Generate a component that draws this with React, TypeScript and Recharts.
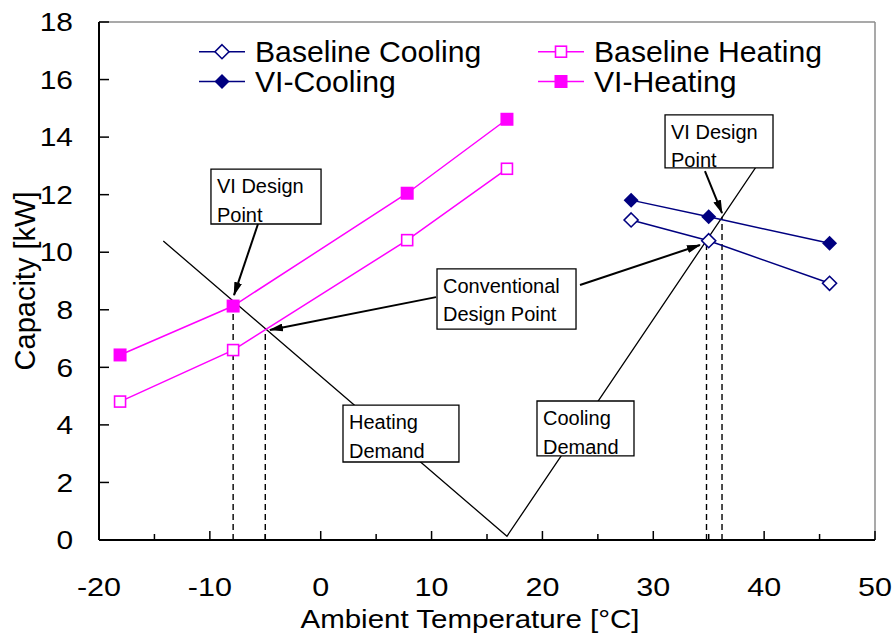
import React from 'react';
import { LineChart, Line, XAxis, YAxis, ReferenceLine, ReferenceArea, Legend } from 'recharts';

// measured values (°C / kW)
const heatTemps = [-18.1, -7.9, 7.8, 16.8];
const baselineHeating = [4.81, 6.6, 10.42, 12.9];
const viHeating = [6.43, 8.13, 12.05, 14.62];

const coolTemps = [28.0, 35.0, 45.9];
const baselineCooling = [11.12, 10.4, 8.92];
const viCooling = [11.81, 11.23, 10.31];

// building load line (heating demand -> balance point -> cooling demand)
const demandTemps = [-14.2, 16.8, 40.3];
const demandLoad = [10.39, 0.13, 13.55];

// design point drop lines
const designTemps = [-7.9, -5.0, 34.8, 36.2];
const designLoads = [8.13, 7.3, 10.4, 11.23];

const xTicks = [-20, -15, -10, -5, 0, 5, 10, 15, 20, 25, 30, 35, 40, 45, 50];
const yTicks = [0, 2, 4, 6, 8, 10, 12, 14, 16, 18];

const NAVY = '#000080';
const MAGENTA = '#FF00FF';
const FONT = '"Liberation Sans", Arial, sans-serif';

const toPoints = (xs: number[], ys: number[]) => xs.map((x, i) => ({ x, y: ys[i] }));

const series = [
  { name: 'Baseline Cooling', color: NAVY, marker: 'diamondOpen', data: toPoints(coolTemps, baselineCooling) },
  { name: 'VI-Cooling', color: NAVY, marker: 'diamondFilled', data: toPoints(coolTemps, viCooling) },
  { name: 'Baseline Heating', color: MAGENTA, marker: 'squareOpen', data: toPoints(heatTemps, baselineHeating) },
  { name: 'VI-Heating', color: MAGENTA, marker: 'squareFilled', data: toPoints(heatTemps, viHeating) },
];

// text boxes, in data coordinates
const notes = [
  { lines: ['VI Design', 'Point'], x1: -9.9, x2: 0.03, y1: 10.98, y2: 12.89 },
  { lines: ['VI Design', 'Point'], x1: 31.06, x2: 40.8, y1: 12.93, y2: 14.77 },
  { lines: ['Conventional', 'Design Point'], x1: 10.49, x2: 23.03, y1: 7.33, y2: 9.42 },
  { lines: ['Heating', 'Demand'], x1: 2.01, x2: 12.47, y1: 2.71, y2: 4.69 },
  { lines: ['Cooling', 'Demand'], x1: 19.51, x2: 28.26, y1: 2.92, y2: 4.83 },
];

const arrows = [
  { from: { x: -5.66, y: 10.98 }, to: { x: -7.82, y: 8.51 } },
  { from: { x: 10.4, y: 8.44 }, to: { x: -4.58, y: 7.3 } },
  { from: { x: 23.39, y: 8.86 }, to: { x: 34.21, y: 10.25 } },
  { from: { x: 34.66, y: 12.82 }, to: { x: 36.2, y: 11.36 } },
];

function Marker({ kind, cx, cy, color }: { kind: string; cx: number; cy: number; color: string }) {
  if (kind === 'squareOpen') {
    return <rect x={cx - 5.5} y={cy - 5.5} width={11} height={11} fill="#fff" stroke={color} strokeWidth={1.6} />;
  }
  if (kind === 'squareFilled') {
    return <rect x={cx - 6.5} y={cy - 6.5} width={13} height={13} fill={color} />;
  }
  const r = kind === 'diamondFilled' ? 7.5 : 7;
  const d = `M${cx},${cy - r} L${cx + r},${cy} L${cx},${cy + r} L${cx - r},${cy} Z`;
  return kind === 'diamondFilled'
    ? <path d={d} fill={color} />
    : <path d={d} fill="#fff" stroke={color} strokeWidth={1.6} />;
}

const X_TICK_GAP = 38;
const Y_TICK_GAP = 26;

function XTick(props: any) {
  const { x, y, payload } = props;
  const v = payload.value;
  const major = v % 10 === 0;
  const axisY = y - X_TICK_GAP;
  return (
    <g>
      <line x1={x} x2={x} y1={axisY} y2={axisY - (major ? 9 : 6)} stroke="#000" strokeWidth={1.5} />
      {major && (
        <text transform={`translate(${x},${y}) scale(1.22,1)`} textAnchor="middle" dy="0.71em" fontSize={25} fill="#000">
          {v}
        </text>
      )}
    </g>
  );
}

function YTick(props: any) {
  const { x, y, payload } = props;
  const axisX = x + Y_TICK_GAP;
  return (
    <g>
      <line x1={axisX} x2={axisX + 10} y1={y} y2={y} stroke="#000" strokeWidth={1.5} />
      <text transform={`translate(${x},${y}) scale(1.15,1)`} textAnchor="end" dy="0.355em" fontSize={26} fill="#000">
        {payload.value}
      </text>
    </g>
  );
}

function NoteLabel({ viewBox, lines }: any) {
  if (!viewBox) return null;
  return (
    <text fontSize={20} fill="#000">
      {lines.map((t: string, i: number) => (
        <tspan key={i} x={viewBox.x + 6} y={viewBox.y + 24 + i * 28.5}>{t}</tspan>
      ))}
    </text>
  );
}

function ChartLegend() {
  const cols = [
    { lineX: 199, textX: 255 },
    { lineX: 538, textX: 594 },
  ];
  const rows = [51.7, 81.5];
  return (
    <svg width={893} height={110} style={{ display: 'block' }}>
      {series.map((s, i) => {
        const c = cols[Math.floor(i / 2)];
        const ry = rows[i % 2];
        return (
          <g key={s.name}>
            <line x1={c.lineX} x2={c.lineX + 46} y1={ry} y2={ry} stroke={s.color} strokeWidth={1.5} />
            <Marker kind={s.marker} cx={c.lineX + 23} cy={ry} color={s.color} />
            <text
              transform={`translate(${c.textX},${ry + 10}) scale(1.04,1)`}
              fontSize={29}
              fill="#000"
              style={{ fontFamily: FONT }}
            >
              {s.name}
            </text>
          </g>
        );
      })}
    </svg>
  );
}

export default function App() {
  return (
    <div style={{ position: 'absolute', left: 0, top: 0, width: 893, height: 636, background: '#fff', fontFamily: FONT }}>
      <LineChart width={893} height={636} margin={{ top: 22, right: 18, bottom: 0, left: 0 }}>
        <defs>
          <marker id="arrowHead" markerWidth="14" markerHeight="8" refX="13" refY="4" orient="auto" markerUnits="userSpaceOnUse">
            <path d="M0,0 L14,4 L0,8 Z" fill="#000" />
          </marker>
        </defs>

        <XAxis
          type="number"
          dataKey="x"
          domain={[-20, 50]}
          ticks={xTicks}
          interval={0}
          allowDataOverflow
          height={96}
          tickSize={0}
          tickLine={false}
          tickMargin={X_TICK_GAP}
          axisLine={{ stroke: '#000', strokeWidth: 2 }}
          tick={<XTick />}
          label={{
            content: (p: any) => {
              const cx = p.viewBox.x + p.viewBox.width / 2 - 17;
              return (
                <text
                  transform={`translate(${cx},${p.viewBox.y + p.viewBox.height - 8}) scale(1.18,1)`}
                  textAnchor="middle"
                  fontSize={25}
                  fill="#000"
                >
                  Ambient Temperature [°C]
                </text>
              );
            },
          }}
        />
        <YAxis
          type="number"
          domain={[0, 18]}
          ticks={yTicks}
          interval={0}
          allowDataOverflow
          width={99}
          tickSize={0}
          tickLine={false}
          tickMargin={Y_TICK_GAP}
          axisLine={{ stroke: '#000', strokeWidth: 2 }}
          tick={<YTick />}
          label={{
            content: (p: any) => (
              <text
                transform={`translate(${p.viewBox.x + 25},${p.viewBox.y + p.viewBox.height / 2}) rotate(-90)`}
                textAnchor="middle"
                dy="0.355em"
                fontSize={29}
                fill="#000"
              >
                Capacity [kW]
              </text>
            ),
          }}
        />

        <ReferenceLine y={18} stroke="#8c8c8c" strokeWidth={1.5} />
        <ReferenceLine x={50} stroke="#8c8c8c" strokeWidth={1.5} />

        {designTemps.map((t, i) => (
          <ReferenceLine
            key={`drop-${i}`}
            segment={[{ x: t, y: 0 }, { x: t, y: designLoads[i] }]}
            stroke="#000"
            strokeWidth={1.4}
            strokeDasharray="6 4"
          />
        ))}

        <Line
          data={toPoints(demandTemps, demandLoad)}
          dataKey="y"
          stroke="#000"
          strokeWidth={1.3}
          dot={false}
          activeDot={false}
          legendType="none"
          isAnimationActive={false}
        />

        {series.map((s) => (
          <Line
            key={s.name}
            name={s.name}
            data={s.data}
            dataKey="y"
            stroke={s.color}
            strokeWidth={1.5}
            dot={(p: any) => <Marker key={p.index} kind={s.marker} cx={p.cx} cy={p.cy} color={s.color} />}
            activeDot={false}
            isAnimationActive={false}
          />
        ))}

        {notes.map((n, i) => (
          <ReferenceArea
            key={`note-${i}`}
            x1={n.x1}
            x2={n.x2}
            y1={n.y1}
            y2={n.y2}
            fill="#fff"
            fillOpacity={1}
            stroke="#000"
            strokeWidth={1.3}
            ifOverflow="visible"
            zIndex={1500}
            label={{ content: (p: any) => <NoteLabel viewBox={p.viewBox} lines={n.lines} /> }}
          />
        ))}

        {arrows.map((a, i) => (
          <ReferenceLine
            key={`arrow-${i}`}
            segment={[a.from, a.to]}
            ifOverflow="visible"
            zIndex={1600}
            shape={(p: any) => (
              <line x1={p.x1} y1={p.y1} x2={p.x2} y2={p.y2} stroke="#000" strokeWidth={2} markerEnd="url(#arrowHead)" />
            )}
          />
        ))}

        <Legend
          layout="horizontal"
          verticalAlign="middle"
          align="center"
          wrapperStyle={{ left: 0, top: 0, width: 893, height: 110 }}
          content={() => <ChartLegend />}
        />
      </LineChart>
    </div>
  );
}
